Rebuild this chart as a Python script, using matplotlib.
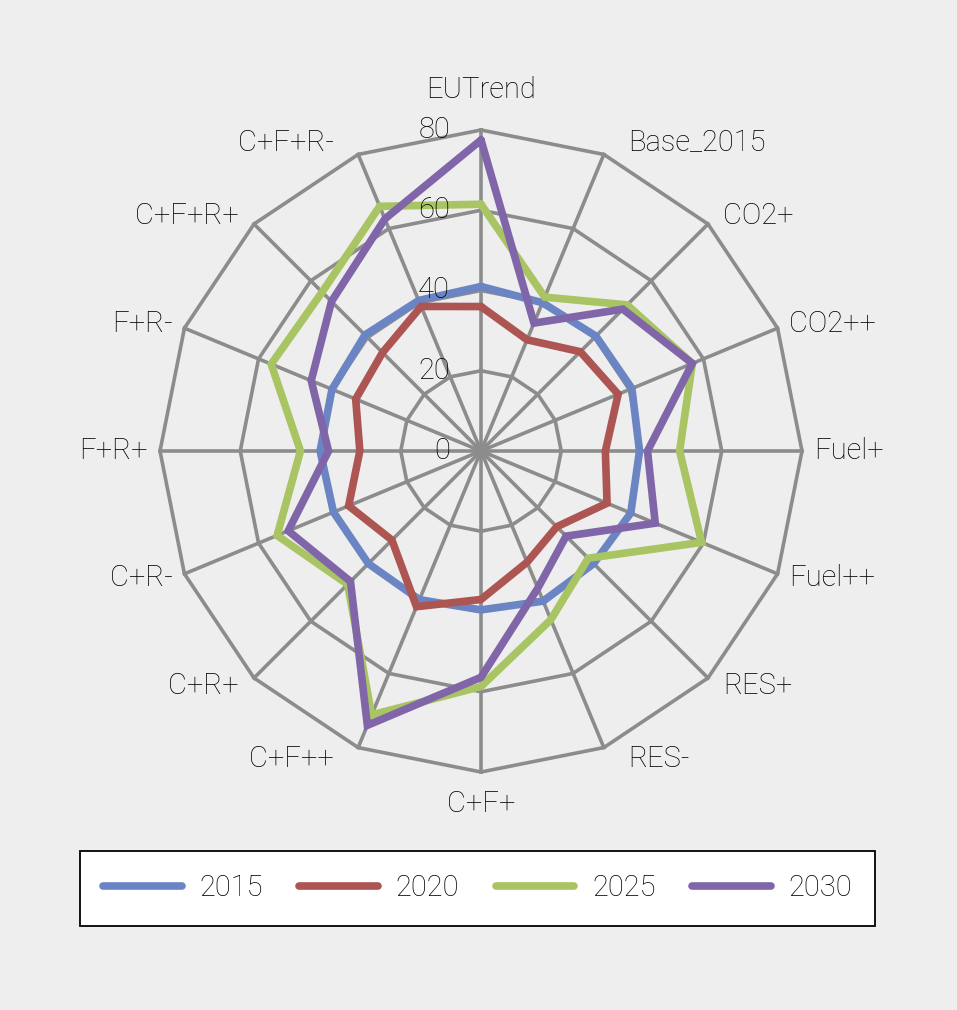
import numpy as np
from matplotlib import pyplot as plt

categories = ['EUTrend', 'Base_2015', 'CO2+', 'CO2++', 'Fuel+', 'Fuel++',
              'RES+', 'RES-', 'C+F+', 'C+F++', 'C+R+', 'C+R-',
              'F+R+', 'F+R-', 'C+F+R+', 'C+F+R-']
years = ['2015', '2020', '2025', '2030']
v2015 = [41, 40, 40.5, 40.7, 39.5, 40.4, 39.7, 40.5,
         39.6, 40.1, 39.7, 39.8, 40.1, 40.2, 40.9, 40.6]
v2020 = [36, 30, 35, 37, 31, 34, 26.7, 30,
         37, 42, 31.4, 35.7, 30.2, 33.8, 34.7, 39]
v2025 = [61.5, 41.5, 51.5, 57, 49.5, 59.5, 37.8, 45.5,
         58.7, 71.2, 47, 55, 45, 56.6, 56, 66]
v2030 = [77.5, 34.5, 50, 57, 41.5, 47, 30, 37,
         56.4, 74, 46, 52, 38, 45.8, 52.7, 62.6]
rticks = [0, 20, 40, 60, 80]

colors = ['#6B84C3', '#AD5552', '#A9C462', '#8066A8']
grid_col = '#8C8C8C'
bg = '#EEEEEE'
txt_col = '#000000'
fs = 21

plt.rcParams['font.family'] = ['Roboto', 'DejaVu Sans']
plt.rcParams['font.weight'] = 'light'

W, H = 957, 1010
cx, cy, R = 481, 451, 321
fig = plt.figure(figsize=(W / 100, H / 100), dpi=100, facecolor=bg)
ax = fig.add_axes([(cx - R) / W, (H - cy - R) / H, 2 * R / W, 2 * R / H],
                  projection='polar')
ax.set_facecolor(bg)
ax.set_theta_offset(np.pi / 2)
ax.set_theta_direction(-1)
ax.set_ylim(0, 80)
ax.grid(False)
ax.spines['polar'].set_visible(False)
ax.set_xticks([])
ax.set_yticks([])

n = len(categories)
theta = np.arange(n) * 2 * np.pi / n
theta_c = np.append(theta, theta[0])

# polygon grid
for r in rticks[1:]:
    ax.plot(theta_c, [r] * (n + 1), color=grid_col, lw=2.6, clip_on=False,
            solid_joinstyle='miter', zorder=1)
for t in theta:
    ax.plot([t, t], [0, 80], color=grid_col, lw=2.6, clip_on=False, zorder=1)

for vals, col, lab in zip([v2015, v2020, v2025, v2030], colors, years):
    ax.plot(theta_c, vals + vals[:1], color=col, lw=5.5, label=lab,
            solid_joinstyle='miter', solid_capstyle='round', clip_on=False,
            zorder=3)

# radial tick labels
for r in rticks:
    ax.annotate(str(r), xy=(0, r), xytext=(-31, 0), textcoords='offset pixels',
                ha='right', va='center', fontsize=fs, color=txt_col,
                zorder=4)

# category labels
for t, name in zip(theta, categories):
    s, c = np.sin(t), np.cos(t)
    if abs(s) < 0.1:
        off = (0, 40) if c > 0 else (0, -32)
        ax.annotate(name, xy=(t, 80), xytext=off, textcoords='offset pixels',
                    ha='center', va='center', fontsize=fs, color=txt_col)
        continue
    shift = 60 * max(0, abs(c) - 0.6)
    ox = 3 * 4.01 * s + np.sign(s) * shift
    oy = 3 * 4.01 * c
    ax.annotate(name, xy=(t, 80), xytext=(ox, oy), textcoords='offset pixels',
                ha='left' if s > 0 else 'right', va='center', fontsize=fs,
                color=txt_col)

leg = fig.legend(loc='center', ncol=4, mode='expand',
                 bbox_to_anchor=(80 / W, (H - 926) / H, 795 / W, 75 / H),
                 fontsize=fs, handlelength=2.7, handletextpad=0.6,
                 frameon=True, fancybox=False, edgecolor='black',
                 facecolor='white', framealpha=1, borderpad=0.8,
                 borderaxespad=0)
leg.get_frame().set_linewidth(1.3)
for h in leg.get_lines():
    h.set_solid_capstyle('round')
for txt in leg.get_texts():
    txt.set_color(txt_col)

fig.savefig('out.png', dpi=100, facecolor=bg)
